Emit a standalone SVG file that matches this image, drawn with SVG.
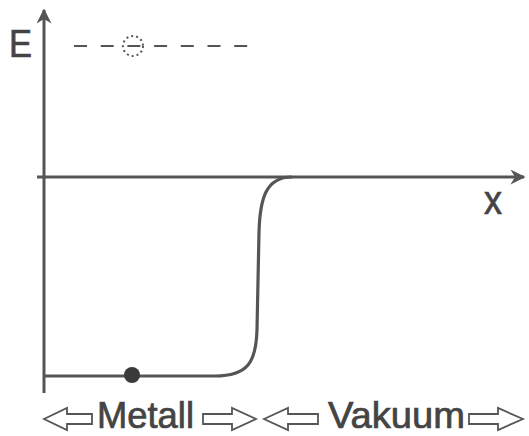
<svg xmlns="http://www.w3.org/2000/svg" width="529" height="436" viewBox="0 0 529 436">
<defs>
<style>
.ax{stroke:#555;stroke-width:3;fill:none}
.curve{stroke:#555;stroke-width:3.2;fill:none}
.lbl{font-family:"Liberation Sans",Arial,sans-serif;fill:#444;stroke:#444;stroke-width:0.7}
.harrow{fill:#fff;stroke:#555;stroke-width:1.8;stroke-linejoin:miter}
</style>
<marker id="ah" viewBox="0 0 10 10" refX="9" refY="5" markerWidth="6.5" markerHeight="5" markerUnits="strokeWidth" orient="auto">
<path d="M0,0 L10,5 L0,10 L3,5 Z" fill="#555"/>
</marker>
</defs>
<rect width="529" height="436" fill="#fff"/>
<g id="connectors">
<line id="e-axis" class="ax" x1="44" y1="393" x2="44" y2="10" marker-end="url(#ah)"/>
<line id="x-axis" class="ax" x1="37" y1="177" x2="524" y2="177" marker-end="url(#ah)"/>
<path id="potential" class="curve" d="M44,376 H215 C248,376 256,362 257,330 L259,232 C260,198 266,177 292,177"/>
<line id="level" x1="74" y1="46" x2="256" y2="46" stroke="#555" stroke-width="2" stroke-dasharray="13 13.7"/>
</g>
<g id="e-label"><text class="lbl" x="9" y="57" font-size="38" textLength="23" lengthAdjust="spacingAndGlyphs">E</text></g>
<g id="x-label"><text class="lbl" x="484" y="214" font-size="40" textLength="18" lengthAdjust="spacingAndGlyphs">x</text></g>
<g id="electron-vacuum"><circle cx="133" cy="46" r="10" fill="none" stroke="#555" stroke-width="2" stroke-dasharray="2 3"/></g>
<g id="electron-metal"><circle cx="132" cy="375" r="8" fill="#3a3a3a"/></g>
<g id="metall-label">
<path class="harrow" d="M44,419 L67,408 L67,414 L92,414 L92,424 L67,424 L67,430 Z"/>
<text class="lbl" x="97" y="428" font-size="36" textLength="97" lengthAdjust="spacingAndGlyphs">Metall</text>
<path class="harrow" d="M256,419 L232,408 L232,414 L203,414 L203,424 L232,424 L232,430 Z"/>
</g>
<g id="vakuum-label">
<path class="harrow" d="M264,419 L288,408 L288,414 L318,414 L318,424 L288,424 L288,430 Z"/>
<text class="lbl" x="328" y="428" font-size="36" textLength="137" lengthAdjust="spacingAndGlyphs">Vakuum</text>
<path class="harrow" d="M523,419 L498,408 L498,414 L469,414 L469,424 L498,424 L498,430 Z"/>
</g>
</svg>
